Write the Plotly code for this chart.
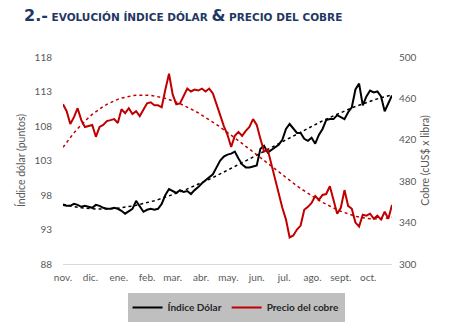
import numpy as np
import pandas as pd
import plotly.graph_objects as go

# Sample dates (every 4 days, Nov-2021 to Oct-2022)
fechas = pd.date_range("2021-11-01", periods=91, freq="4D")

# Índice Dólar (puntos)
indice_dolar = [
    96.57, 96.43, 96.43, 96.71, 96.57, 96.29, 96.43, 96.29, 96.14, 96.57,
    96.43, 96.14, 96.00, 96.00, 96.14, 96.00, 95.71, 95.29, 95.71, 96.00,
    97.14, 96.29, 95.57, 95.86, 96.00, 95.86, 96.00, 96.71, 98.00, 98.86,
    98.57, 98.29, 98.71, 98.43, 98.57, 98.14, 98.71, 99.14, 99.71, 100.14,
    100.57, 101.00, 102.00, 103.00, 103.57, 103.86, 104.00, 104.29, 103.29, 102.43,
    102.00, 102.00, 102.14, 102.29, 104.71, 105.14, 104.14, 104.57, 104.86, 105.29,
    106.00, 107.57, 108.29, 107.57, 107.00, 107.00, 106.14, 105.86, 106.29, 105.43,
    106.71, 107.57, 108.86, 109.00, 109.00, 109.57, 109.29, 109.00, 110.00, 110.71,
    113.30, 114.14, 111.00, 112.29, 113.14, 112.86, 113.00, 112.29, 110.14, 111.29,
    112.43,
]

# Precio del cobre (cUS$ x libra)
precio_cobre = [
    454.3, 447.6, 435.2, 441.9, 450.5, 439.0, 432.4, 433.3, 434.3, 422.9,
    432.4, 434.3, 438.1, 439.0, 440.0, 436.2, 449.5, 445.7, 450.5, 444.8,
    447.6, 442.9, 448.6, 455.2, 456.2, 453.3, 453.3, 451.4, 468.6, 483.8,
    463.8, 454.3, 455.2, 462.9, 469.5, 466.7, 468.6, 467.6, 469.5, 466.7,
    469.5, 464.8, 453.3, 443.8, 433.3, 424.8, 413.0, 423.8, 427.6, 423.8,
    428.6, 432.4, 440.0, 434.3, 421.0, 408.6, 410.5, 396.2, 380.0, 368.6,
    354.3, 342.9, 325.7, 327.6, 333.3, 337.1, 352.4, 355.2, 359.0, 365.7,
    361.9, 366.7, 367.6, 375.2, 360.9, 348.6, 354.3, 371.4, 356.2, 353.3,
    340.0, 336.2, 347.6, 346.7, 348.6, 343.8, 346.7, 342.9, 350.5, 343.8,
    357.1,
]

meses_val = pd.date_range("2021-11-01", periods=12, freq="MS")
meses_txt = ["nov.", "dic.", "ene.", "feb.", "mar.", "abr.", "may.",
             "jun.", "jul.", "ago.", "sept.", "oct."]

# Polynomial (order 3) trend lines, as in a spreadsheet trendline
t = np.arange(len(fechas), dtype=float)
tend_dolar = np.polyval(np.polyfit(t, indice_dolar, 3), t)
tend_cobre = np.polyval(np.polyfit(t, precio_cobre, 3), t)

NEGRO = "#000000"
ROJO = "#C00000"
GRIS_TXT = "#595959"
FUENTE = "Lato"

fig = go.Figure()
fig.add_trace(go.Scatter(x=fechas, y=tend_dolar, mode="lines",
                         line=dict(color=NEGRO, width=1.5, dash="dot"),
                         showlegend=False, hoverinfo="skip"))
fig.add_trace(go.Scatter(x=fechas, y=tend_cobre, mode="lines", yaxis="y2",
                         line=dict(color=ROJO, width=1.5, dash="dot"),
                         showlegend=False, hoverinfo="skip"))
fig.add_trace(go.Scatter(x=fechas, y=indice_dolar, mode="lines",
                         name="Índice Dólar",
                         line=dict(color=NEGRO, width=2)))
fig.add_trace(go.Scatter(x=fechas, y=precio_cobre, mode="lines", yaxis="y2",
                         name="Precio del cobre",
                         line=dict(color=ROJO, width=2)))

titulo = ("<span style='font-size:16px'>2.-</span> EVOLUCIÓN ÍNDICE DÓLAR "
          "<span style='font-size:16px'>&amp;</span> PRECIO DEL COBRE")

fig.update_layout(
    width=470, height=334,
    margin=dict(l=63, r=78, t=57, b=67),
    paper_bgcolor="white", plot_bgcolor="white",
    font=dict(family=FUENTE, size=10, color=GRIS_TXT),
    xaxis=dict(
        range=[fechas[0], fechas[-1]],
        tickvals=meses_val, ticktext=meses_txt,
        showgrid=False, zeroline=False,
        showline=True, linecolor="#D9D9D9", linewidth=1,
        ticks="", ticklabelstandoff=4,
        tickfont=dict(family=FUENTE, size=10, color=GRIS_TXT),
    ),
    yaxis=dict(
        range=[88, 118], tickvals=[88, 93, 98, 103, 108, 113, 118],
        showgrid=False, zeroline=False, showline=False, ticks="",
        ticklabelstandoff=10,
        tickfont=dict(family=FUENTE, size=10, color=GRIS_TXT),
        title=dict(text="Índice dólar (puntos)", standoff=6,
                   font=dict(family=FUENTE, size=10.5, color=GRIS_TXT)),
    ),
    yaxis2=dict(
        range=[300, 500], tickvals=[300, 340, 380, 420, 460, 500],
        overlaying="y", side="right",
        showgrid=False, zeroline=False, showline=False, ticks="",
        ticklabelstandoff=6,
        tickfont=dict(family=FUENTE, size=10, color=GRIS_TXT),
        title=dict(text="Cobre (cUS$ x libra)", standoff=6,
                   font=dict(family=FUENTE, size=10.5, color=GRIS_TXT)),
    ),
    legend=dict(
        orientation="h", x=0.526, xanchor="center", y=-0.14, yanchor="top",
        bgcolor="#BFBFBF", borderwidth=0,
        font=dict(family=FUENTE, size=10, color="#262626", weight="bold"),
        itemwidth=30, tracegroupgap=0,
    ),
    annotations=[dict(
        text=titulo, xref="paper", yref="paper",
        x=-0.125, y=1.2, xanchor="left", yanchor="middle",
        showarrow=False,
        font=dict(family="DejaVu Sans", size=10.5, color="#1F3864",
                  weight="bold"),
    )],
)

fig.write_html("out.html")
